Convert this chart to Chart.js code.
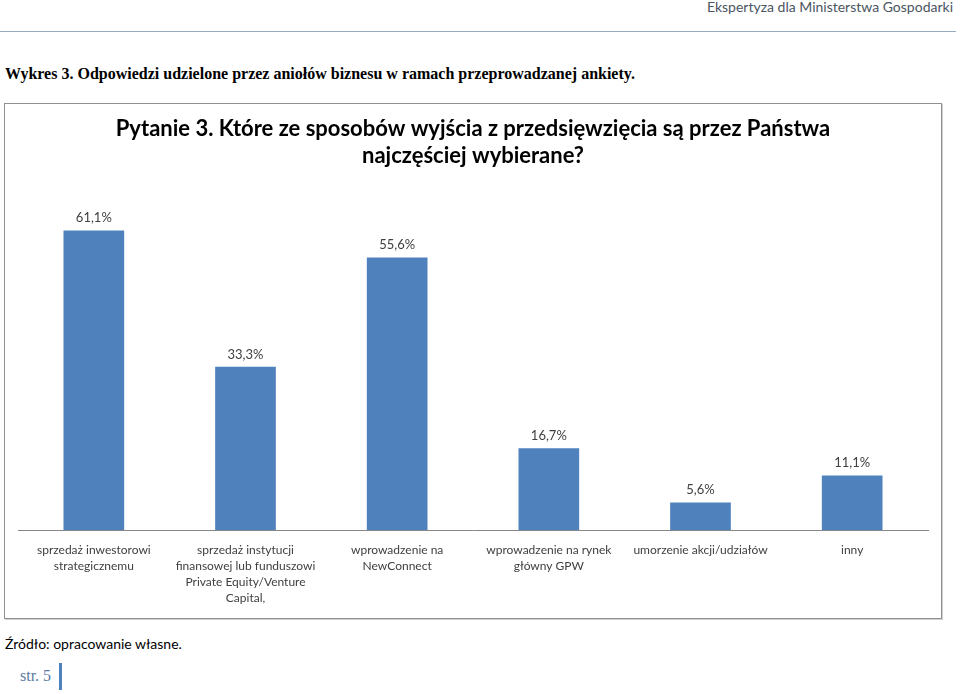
<!DOCTYPE html>
<html>
<head>
<meta charset="utf-8">
<script src="https://cdn.jsdelivr.net/npm/chart.js@4"></script>
<style>
  body { margin: 0; background: #fff; width: 960px; height: 694px; position: relative; overflow: hidden; }
  #hdr { position: absolute; right: 7px; top: -2px; font: 14px Lato, sans-serif; color: #4a5561; }
  #hline { position: absolute; left: 0; top: 31px; width: 956px; height: 1px; background: #9aabbd; }
  #cap { position: absolute; left: 5px; top: 65px; font: bold 16px "Liberation Serif", serif; color: #000; }
  #box { position: absolute; left: 4px; top: 103px; width: 936px; height: 514px; border: 1px solid #8f8f8f; box-shadow: 1px 1px 0 #d0d0d0; }
  #src { position: absolute; left: 5px; top: 635px; font: 14px Lato, sans-serif; color: #000; }
  #pg { position: absolute; left: 20px; top: 667px; font: 16px "Liberation Serif", serif; color: #5b7aa3; }
  #pgbar { position: absolute; left: 59px; top: 663px; width: 3px; height: 27px; background: #4f81bd; }
</style>
</head>
<body>
<div id="hdr">Ekspertyza dla Ministerstwa Gospodarki</div>
<div id="hline"></div>
<div id="cap">Wykres 3. Odpowiedzi udzielone przez aniołów biznesu w ramach przeprowadzanej ankiety.</div>
<div id="box"><canvas id="myChart" width="936" height="514"></canvas></div>
<div id="src">Źródło: opracowanie własne.</div>
<div id="pg">str. 5</div>
<div id="pgbar"></div>
<script>
var categories = [
    ['sprzedaż inwestorowi', 'strategicznemu'],
    ['sprzedaż instytucji', 'finansowej lub funduszowi', 'Private Equity/Venture', 'Capital,'],
    ['wprowadzenie na', 'NewConnect'],
    ['wprowadzenie na rynek', 'główny GPW'],
    ['umorzenie akcji/udziałów'],
    ['inny']
];
var values = [61.1, 33.3, 55.6, 16.7, 5.6, 11.1];
var titleLines = ['Pytanie 3. Które ze sposobów wyjścia z przedsięwzięcia są przez Państwa', 'najczęściej wybierane?'];

// labels above bars, "61,1%"
var barLabels = {
    id: 'barLabels',
    afterDatasetsDraw(chart) {
        var ctx = chart.ctx;
        var meta = chart.getDatasetMeta(0);
        ctx.save();
        ctx.font = '13px Lato, sans-serif';
        ctx.fillStyle = '#404040';
        ctx.textAlign = 'center';
        ctx.textBaseline = 'bottom';
        meta.data.forEach(function (bar, i) {
            var txt = values[i].toFixed(1).replace('.', ',') + '%';
            ctx.fillText(txt, bar.x, bar.y - 6);
        });
        ctx.restore();
    }
};

var canvas = document.getElementById('myChart').getContext('2d');

new Chart(canvas, {
    type: 'bar',
    data: {
        labels: categories,
        datasets: [{
            data: values,
            backgroundColor: '#4f81bd',
            barPercentage: 0.4,
            categoryPercentage: 1.0
        }]
    },
    options: {
        responsive: false,
        animation: false,
        layout: { padding: { left: 13, right: 13, top: 0, bottom: 0 } },
        plugins: {
            legend: { display: false },
            tooltip: { enabled: false },
            title: {
                display: true,
                text: titleLines,
                color: '#000',
                font: { family: 'Lato, sans-serif', size: 22, weight: 'bold', lineHeight: 1.25 },
                padding: { top: 11, bottom: 17 }
            }
        },
        scales: {
            x: {
                grid: { display: false, drawTicks: false },
                border: { display: true, color: '#868686' },
                ticks: {
                    color: '#404040',
                    font: { family: 'Lato, sans-serif', size: 12, lineHeight: 1.333 },
                    padding: 12,
                    maxRotation: 0,
                    autoSkip: false
                }
            },
            y: {
                display: false,
                min: 0,
                max: 70
            }
        }
    },
    plugins: [barLabels]
});
</script>
</body>
</html>
